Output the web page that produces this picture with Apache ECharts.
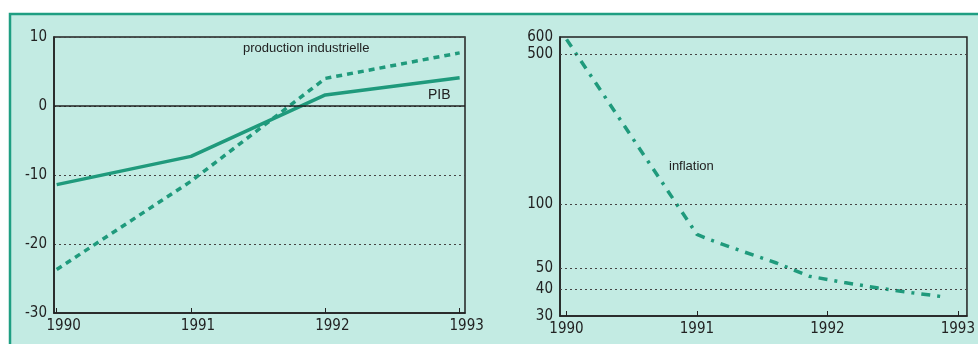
<!DOCTYPE html>
<html>
<head>
<meta charset="utf-8">
<script src="https://cdn.jsdelivr.net/npm/echarts@6/dist/echarts.min.js"></script>
<style>
  html, body { margin: 0; padding: 0; background: #fff; }
  #chart { width: 978px; height: 344px; }
</style>
</head>
<body>
<div id="chart"></div>
<script>
// 数据
const years = [1990, 1991, 1992, 1993]
const pib = [-11.4, -7.3, 1.6, 4.1]
const productionIndustrielle = [-23.7, -10.9, 4.0, 7.7]
const inflationDates = [1990, 1991, 1991.1, 1991.35, 1991.61, 1991.86, 1992.13, 1992.39, 1992.65, 1992.9]
const inflation = [585, 72, 68, 60, 53, 46, 43, 40.5, 38.5, 36.8]
const leftTicks = [-30, -20, -10, 0, 10]
const rightTicks = [30, 40, 50, 100, 500, 600]
const rightGridLines = [40, 50, 100, 500]

const ink = '#222'
const teal = '#1f9a7c'
const font = '"Liberation Sans Narrow", "DejaVu Sans Condensed", "Liberation Sans", sans-serif'

let myChart = echarts.init(document.getElementById('chart'))

const option = {
  animation: false,
  backgroundColor: '#fff',
  graphic: [
    {
      type: 'rect',
      shape: { x: 10, y: 14, width: 968, height: 330 },
      style: { fill: '#c3ebe3' },
      z: -10,
    },
    {
      type: 'polyline',
      shape: { points: [[10, 344], [10, 14], [978, 14]] },
      style: { stroke: '#1f9e82', lineWidth: 2.5, fill: null },
      z: -9,
    },
    {
      type: 'text',
      left: 243,
      top: 42,
      style: { text: 'production industrielle', font: '13px "Liberation Sans"', fill: ink },
    },
    {
      type: 'text',
      left: 428,
      top: 88,
      style: { text: 'PIB', font: '14px "Liberation Sans"', fill: ink },
    },
    {
      type: 'text',
      left: 669,
      top: 160,
      style: { text: 'inflation', font: '13px "Liberation Sans"', fill: ink },
    },
  ],
  grid: [
    { left: 54, top: 37, width: 411, height: 276, show: true, borderColor: ink, borderWidth: 1.5, backgroundColor: 'transparent' },
    { left: 560, top: 37, width: 412, height: 279, show: true, borderColor: ink, borderWidth: 1.5, backgroundColor: 'transparent' },
  ],
  xAxis: [
    {
      type: 'value',
      gridIndex: 0,
      min: 1989.98,
      max: 1993.04,
      axisLine: { onZero: false, lineStyle: { color: ink, width: 1.5 } },
      axisTick: { inside: true, length: 5, customValues: years, lineStyle: { color: ink } },
      axisLabel: {
        customValues: years,
        formatter: (v) => String(v),
        color: ink,
        fontFamily: font,
        fontSize: 15,
        margin: 6,
        padding: [0, 0, 0, 14],
      },
      splitLine: { show: false },
    },
    {
      type: 'value',
      gridIndex: 1,
      min: 1989.95,
      max: 1993.07,
      axisLine: { onZero: false, lineStyle: { color: ink, width: 1.5 } },
      axisTick: { inside: true, length: 5, customValues: years, lineStyle: { color: ink } },
      axisLabel: {
        customValues: years,
        formatter: (v) => String(v),
        color: ink,
        fontFamily: font,
        fontSize: 15,
        margin: 6,
      },
      splitLine: { show: false },
    },
  ],
  yAxis: [
    {
      type: 'value',
      gridIndex: 0,
      min: -30,
      max: 10,
      interval: 10,
      axisLine: { show: true, lineStyle: { color: ink, width: 1.5 } },
      axisTick: { show: false },
      axisLabel: { customValues: leftTicks, color: ink, fontFamily: font, fontSize: 15, margin: 7 },
      splitLine: { show: true, lineStyle: { color: '#444', type: [2, 3], width: 1 } },
    },
    {
      type: 'log',
      gridIndex: 1,
      min: 30,
      max: 600,
      axisLine: { show: true, lineStyle: { color: ink, width: 1.5 } },
      axisTick: { show: false },
      axisLabel: { customValues: rightTicks, color: ink, fontFamily: font, fontSize: 15, margin: 7 },
      splitLine: { show: false },
    },
  ],
  series: [
    {
      name: 'PIB',
      type: 'line',
      xAxisIndex: 0,
      yAxisIndex: 0,
      data: years.map((y, i) => [y, pib[i]]),
      symbol: 'none',
      lineStyle: { color: teal, width: 3.5 },
      markLine: {
        silent: true,
        symbol: 'none',
        label: { show: false },
        lineStyle: { color: ink, type: 'solid', width: 1.5 },
        data: [{ yAxis: 0 }],
      },
      z: 3,
    },
    {
      name: 'production industrielle',
      type: 'line',
      xAxisIndex: 0,
      yAxisIndex: 0,
      data: years.map((y, i) => [y, productionIndustrielle[i]]),
      symbol: 'none',
      lineStyle: { color: teal, width: 3.5, type: [6, 5] },
      z: 3,
    },
    {
      name: 'inflation',
      type: 'line',
      xAxisIndex: 1,
      yAxisIndex: 1,
      data: inflationDates.map((d, i) => [d, inflation[i]]),
      symbol: 'none',
      lineStyle: { color: teal, width: 3.5, type: [9, 7, 3, 7] },
      markLine: {
        silent: true,
        symbol: 'none',
        label: { show: false },
        lineStyle: { color: '#444', type: [2, 3], width: 1 },
        data: rightGridLines.map((v) => ({ yAxis: v })),
      },
      z: 3,
    },
  ],
}

myChart.setOption(option, true)
</script>
</body>
</html>
